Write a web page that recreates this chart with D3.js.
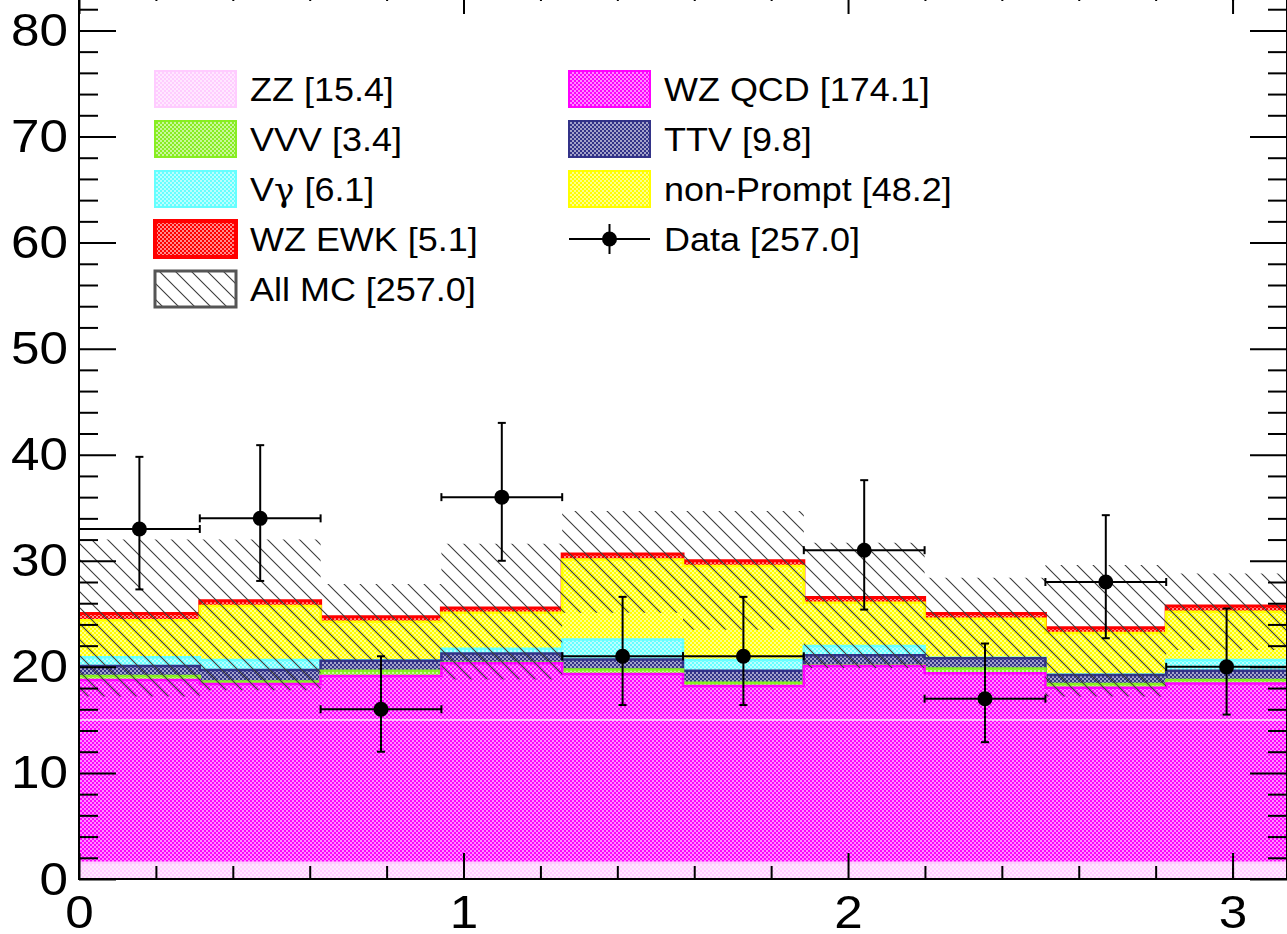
<!DOCTYPE html>
<html>
<head>
<meta charset="utf-8">
<script src="https://cdn.jsdelivr.net/npm/d3@7"></script>
<style>
  html, body { margin: 0; padding: 0; background: #fff; overflow: hidden; }
  svg { display: block; }
  text { font-family: "Liberation Sans", Arial, sans-serif; fill: #000; }
</style>
</head>
<body>
<svg id="chart" width="1287" height="934"></svg>
<script>
// bin edges in delta-phi, 10 bins from 0 to pi
const binEdges = [0, 0.31416, 0.62832, 0.94248, 1.25664, 1.5708, 1.88496, 2.19911, 2.51327, 2.82743, 3.14159];

// samples, in stack order (bottom -> top)
const sampleKeys = ["zz", "wzQCD", "vvv", "ttv", "vgamma", "nonPrompt", "wzEWK"];
const sampleNames = ["ZZ", "WZ QCD", "VVV", "TTV", "V\u03b3", "non-Prompt", "WZ EWK"];
const sampleYields = ["15.4", "174.1", "3.4", "9.8", "6.1", "48.2", "5.1"];
const sampleColors = ["#ffccff", "#ff00ff", "#88ee22", "#333388", "#66ffff", "#ffff00", "#ff0000"];

const zz = [1.54, 1.54, 1.54, 1.54, 1.54, 1.54, 1.54, 1.54, 1.54, 1.54];
const wzQCD = [17.22, 16.84, 17.59, 18.79, 17.78, 16.65, 18.54, 17.85, 16.49, 16.9];
const vvv = [0.37, 0.24, 0.5, 0.05, 0.44, 0.31, 0.05, 0.46, 0.35, 0.32];
const ttv = [0.95, 1.08, 0.94, 0.88, 0.94, 1.13, 0.97, 0.95, 0.85, 0.87];
const vgamma = [0.82, 0.94, 0.05, 0.44, 1.89, 1.01, 0.86, 0.05, 0.05, 1.01];
const nonPrompt = [3.5, 5.09, 3.63, 3.39, 7.54, 8.86, 4.09, 3.68, 3.92, 4.56];
const wzEWK = [0.64, 0.5, 0.47, 0.47, 0.5, 0.5, 0.5, 0.51, 0.48, 0.53];

// all-MC uncertainty band
const mcBandLow = [17.2, 17.8, 20.6, 18.8, 25.1, 23.5, 19.9, 20.9, 17.2, 21.6];
const mcBandHigh = [32.0, 32.0, 27.8, 31.6, 34.7, 34.7, 31.7, 28.4, 29.6, 28.8];

// data with asymmetric errors
const dataCounts = [33, 34, 16, 36, 21, 21, 31, 17, 28, 20];
const dataErrLow = [27.3, 28.1, 12.0, 30.0, 16.4, 16.4, 25.4, 12.9, 22.7, 15.5];
const dataErrHigh = [39.8, 40.9, 21.0, 43.0, 26.6, 26.6, 37.6, 22.2, 34.3, 25.5];
const dataLabel = "Data [257.0]";
const mcLabel = "All MC [257.0]";

const yMajorTicks = [0, 10, 20, 30, 40, 50, 60, 70, 80];
const yMinorTicks = [2, 4, 6, 8, 12, 14, 16, 18, 22, 24, 26, 28, 32, 34, 36, 38, 42, 44, 46, 48, 52, 54, 56, 58, 62, 64, 66, 68, 72, 74, 76, 78, 82];
const xMajorTicks = [0, 1, 2, 3];
const xMinorTicks = [0.2, 0.4, 0.6, 0.8, 1.2, 1.4, 1.6, 1.8, 2.2, 2.4, 2.6, 2.8, 3.0];

const cfg = {
  left: 79, right: 1287, top: -12, bottom: 879,
  yMax: 84,
  yMajorLen: 37, yMinorLen: 19,
  xMajorLen: 26, xMinorLen: 13,
  axisWidth: 2,
  labelSize: 47,
  textStretch: 1.09, // the reference text is a bit wider than plain Arial
  // legend
  legFont: 33,
  legColX: [155, 569],
  legRow0: 89, legRowGap: 50,
  legBoxW: 81, legBoxH: 36,
  legTextGap: 95,
  // data markers
  markerR: 7.5, capLen: 4, errWidth: 2,
  hatchColor: "#3a3a3a",
};

const svg = d3.select("#chart");
const defs = svg.append("defs");

const x = d3.scaleLinear().domain([binEdges[0], binEdges[binEdges.length - 1]]).range([cfg.left, cfg.right]);
const y = d3.scaleLinear().domain([0, cfg.yMax]).range([cfg.bottom, cfg.top]);

// ROOT-like dotted fill pattern
function dotPattern(id, color) {
  const p = defs.append("pattern")
    .attr("id", id)
    .attr("patternUnits", "userSpaceOnUse")
    .attr("width", 4).attr("height", 4);
  p.append("rect").attr("width", 4).attr("height", 4).attr("fill", color);
  p.append("rect").attr("x", 0).attr("y", 0).attr("width", 2).attr("height", 2)
    .attr("fill", "#fff").attr("fill-opacity", 0.55).attr("shape-rendering", "crispEdges");
  p.append("rect").attr("x", 2).attr("y", 2).attr("width", 2).attr("height", 2)
    .attr("fill", "#fff").attr("fill-opacity", 0.55).attr("shape-rendering", "crispEdges");
}
sampleKeys.forEach((k, i) => dotPattern("pat-" + k, sampleColors[i]));

// hatch "\\\" pattern for the MC band
const hatch = defs.append("pattern")
  .attr("id", "pat-hatch")
  .attr("patternUnits", "userSpaceOnUse")
  .attr("width", 16).attr("height", 16);
hatch.append("path")
  .attr("d", "M0,0 L16,16 M-4,12 L4,20 M12,-4 L20,4")
  .attr("stroke", cfg.hatchColor)
  .attr("stroke-width", 1.1)
  .attr("fill", "none");

defs.append("clipPath").attr("id", "frame-clip")
  .append("rect")
  .attr("x", cfg.left).attr("y", cfg.top)
  .attr("width", cfg.right - cfg.left).attr("height", cfg.bottom - cfg.top);

// table per bin -> stack
const series = { zz, wzQCD, vvv, ttv, vgamma, nonPrompt, wzEWK };
const table = binEdges.slice(0, -1).map((lo, i) => {
  const row = { lo: lo, hi: binEdges[i + 1] };
  sampleKeys.forEach((k) => { row[k] = series[k][i]; });
  return row;
});
const stacked = d3.stack().keys(sampleKeys)(table);

// step points: two per bin
function stepPoints(values) {
  const pts = [];
  table.forEach((b, i) => {
    pts.push({ x: b.lo, v: values[i] });
    pts.push({ x: b.hi, v: values[i] });
  });
  return pts;
}

const plotG = svg.append("g").attr("clip-path", "url(#frame-clip)");
const stackG = plotG.append("g").attr("class", "stack");

const area0 = d3.area().x((p) => x(p.x)).y0(y(0)).y1((p) => y(p.v));
const topLine = d3.line().x((p) => x(p.x)).y((p) => y(p.v));

// THStack style: draw top cumulative first, each filled from 0
stacked.slice().reverse().forEach((layer) => {
  const idx = sampleKeys.indexOf(layer.key);
  const pts = stepPoints(layer.map((d) => d[1]));
  stackG.append("path")
    .attr("d", area0(pts))
    .attr("fill", "url(#pat-" + layer.key + ")");
  stackG.append("path")
    .attr("d", topLine(pts))
    .attr("fill", "none")
    .attr("stroke", sampleColors[idx])
    .attr("stroke-width", layer.key === "wzEWK" ? 3 : 2.5);
});

// faint tiling seam across the fill
stackG.append("line")
  .attr("x1", cfg.left).attr("x2", cfg.right)
  .attr("y1", y(15)).attr("y2", y(15))
  .attr("stroke", "#fff").attr("stroke-opacity", 0.8).attr("stroke-width", 1.5);

// MC uncertainty band
const bandPts = [];
table.forEach((b, i) => {
  bandPts.push({ x: b.lo, lo: mcBandLow[i], hi: mcBandHigh[i] });
  bandPts.push({ x: b.hi, lo: mcBandLow[i], hi: mcBandHigh[i] });
});
plotG.append("path")
  .attr("d", d3.area().x((p) => x(p.x)).y0((p) => y(p.lo)).y1((p) => y(p.hi))(bandPts))
  .attr("fill", "url(#pat-hatch)");

// axes (ticks inside the frame, ROOT style)
const axisG = svg.append("g").attr("class", "axes");
function styleAxis(g) {
  g.select(".domain").remove();
  g.selectAll("line").attr("stroke", "#000").attr("stroke-width", cfg.axisWidth);
  g.selectAll("text")
    .attr("font-size", cfg.labelSize).attr("fill", "#000")
    .attr("font-family", "Liberation Sans, Arial, sans-serif")
    .attr("transform", function () {
      // stretch around the text anchor
      const ax = +d3.select(this).attr("x") || 0;
      return `translate(${ax},0) scale(${cfg.textStretch},1) translate(${-ax},0)`;
    });
}
axisG.append("g").attr("transform", `translate(${cfg.left},0)`)
  .call(d3.axisLeft(y).tickValues(yMajorTicks).tickSize(-cfg.yMajorLen).tickPadding(11).tickFormat(d3.format("d")))
  .call(styleAxis);
axisG.append("g").attr("transform", `translate(${cfg.left},0)`)
  .call(d3.axisLeft(y).tickValues(yMinorTicks).tickSize(-cfg.yMinorLen).tickFormat(""))
  .call(styleAxis);
axisG.append("g").attr("transform", `translate(${cfg.right},0)`)
  .call(d3.axisRight(y).tickValues(yMajorTicks).tickSize(-cfg.yMajorLen).tickFormat(""))
  .call(styleAxis);
axisG.append("g").attr("transform", `translate(${cfg.right},0)`)
  .call(d3.axisRight(y).tickValues(yMinorTicks).tickSize(-cfg.yMinorLen).tickFormat(""))
  .call(styleAxis);
axisG.append("g").attr("transform", `translate(0,${cfg.bottom})`)
  .call(d3.axisBottom(x).tickValues(xMajorTicks).tickSize(-cfg.xMajorLen).tickPadding(16).tickFormat(d3.format("d")))
  .call(styleAxis);
axisG.append("g").attr("transform", `translate(0,${cfg.bottom})`)
  .call(d3.axisBottom(x).tickValues(xMinorTicks).tickSize(-cfg.xMinorLen).tickFormat(""))
  .call(styleAxis);
axisG.append("g").attr("transform", `translate(0,${cfg.top})`)
  .call(d3.axisTop(x).tickValues(xMajorTicks).tickSize(-cfg.xMajorLen).tickFormat(""))
  .call(styleAxis);
axisG.append("g").attr("transform", `translate(0,${cfg.top})`)
  .call(d3.axisTop(x).tickValues(xMinorTicks).tickSize(-cfg.xMinorLen).tickFormat(""))
  .call(styleAxis);

// frame
axisG.append("rect")
  .attr("x", cfg.left).attr("y", cfg.top)
  .attr("width", cfg.right - cfg.left).attr("height", cfg.bottom - cfg.top)
  .attr("fill", "none").attr("stroke", "#000").attr("stroke-width", cfg.axisWidth);

// data points with error bars
const dataG = svg.append("g").attr("class", "data");
table.forEach((b, i) => {
  const cx = x((b.lo + b.hi) / 2);
  const cy = y(dataCounts[i]);
  const g = dataG.append("g");
  const seg = (x1, y1, x2, y2) => g.append("line")
    .attr("x1", x1).attr("y1", y1).attr("x2", x2).attr("y2", y2)
    .attr("stroke", "#000").attr("stroke-width", cfg.errWidth);
  // horizontal bar over the bin
  seg(x(b.lo), cy, x(b.hi), cy);
  seg(x(b.lo), cy - cfg.capLen, x(b.lo), cy + cfg.capLen);
  seg(x(b.hi), cy - cfg.capLen, x(b.hi), cy + cfg.capLen);
  // vertical error
  seg(cx, y(dataErrLow[i]), cx, y(dataErrHigh[i]));
  seg(cx - cfg.capLen, y(dataErrLow[i]), cx + cfg.capLen, y(dataErrLow[i]));
  seg(cx - cfg.capLen, y(dataErrHigh[i]), cx + cfg.capLen, y(dataErrHigh[i]));
  g.append("circle").attr("cx", cx).attr("cy", cy).attr("r", cfg.markerR).attr("fill", "#000");
});

// legend, filled row by row in two columns
const legendItems = sampleKeys.map((k, i) => ({
  type: "fill", pattern: "pat-" + k, border: sampleColors[i],
  borderWidth: k === "wzEWK" ? 4 : 2,
  label: `${sampleNames[i]} [${sampleYields[i]}]`,
}));
legendItems.push({ type: "data", label: dataLabel });
legendItems.push({ type: "fill", pattern: "pat-hatch", border: "#555", borderWidth: 3, label: mcLabel });

const legG = svg.append("g").attr("class", "legend");
legendItems.forEach((item, i) => {
  const bx = cfg.legColX[i % 2];
  const cy = cfg.legRow0 + Math.floor(i / 2) * cfg.legRowGap;
  const g = legG.append("g");
  if (item.type === "fill") {
    g.append("rect")
      .attr("x", bx).attr("y", cy - cfg.legBoxH / 2)
      .attr("width", cfg.legBoxW).attr("height", cfg.legBoxH)
      .attr("fill", "url(#" + item.pattern + ")")
      .attr("stroke", item.border).attr("stroke-width", item.borderWidth);
  } else {
    g.append("line").attr("x1", bx).attr("x2", bx + cfg.legBoxW).attr("y1", cy).attr("y2", cy)
      .attr("stroke", "#000").attr("stroke-width", cfg.errWidth);
    g.append("line").attr("x1", bx + cfg.legBoxW / 2).attr("x2", bx + cfg.legBoxW / 2)
      .attr("y1", cy - 15).attr("y2", cy + 15)
      .attr("stroke", "#000").attr("stroke-width", cfg.errWidth);
    g.append("circle").attr("cx", bx + cfg.legBoxW / 2).attr("cy", cy).attr("r", cfg.markerR).attr("fill", "#000");
  }
  const t = g.append("text")
    .attr("transform", `translate(${bx + cfg.legTextGap},${cy + 11.5}) scale(${cfg.textStretch},1)`)
    .attr("font-size", cfg.legFont);
  // greek letters get a symbol-like face, as in the ROOT legend
  item.label.split(/(\u03b3)/).forEach((part) => {
    if (!part) return;
    const ts = t.append("tspan").text(part);
    if (part === "\u03b3") ts.attr("font-family", "DejaVu Serif").attr("font-size", cfg.legFont * 0.95);
  });
});
</script>
</body>
</html>
